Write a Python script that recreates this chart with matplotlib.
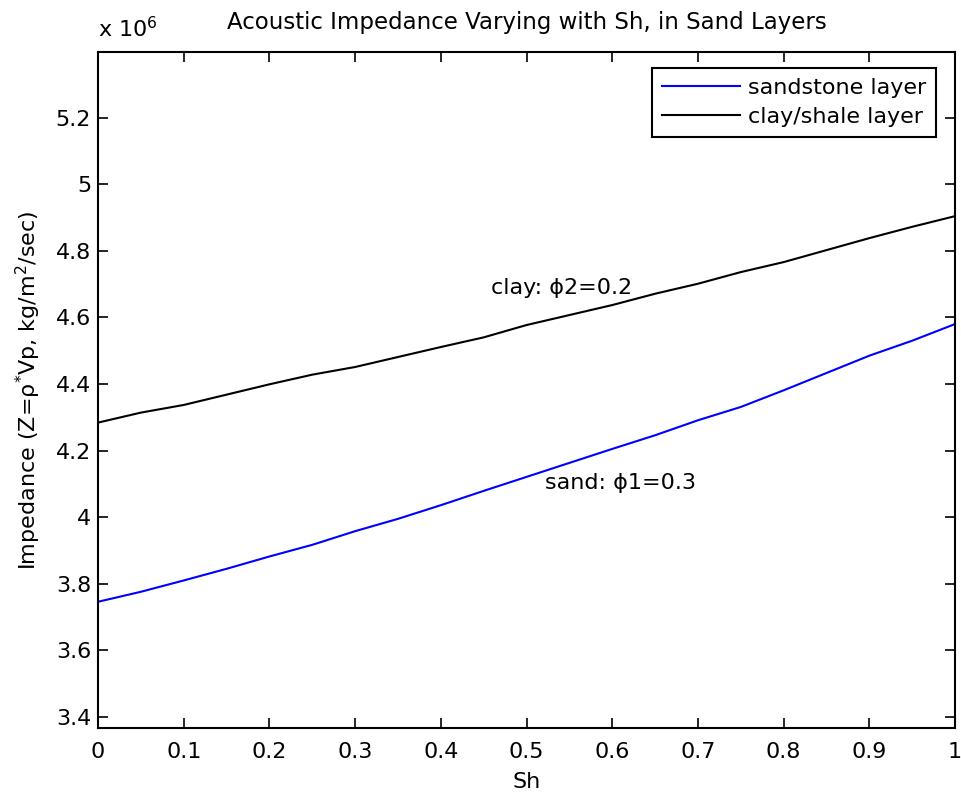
import numpy as np
import matplotlib.pyplot as plt

# shale fraction Sh, sampled every 0.05
sh = np.arange(0, 1.0001, 0.05)

# acoustic impedance Z = rho*Vp (units of 1e6 kg/m^2/sec)
z_sand = [3.746, 3.776, 3.810, 3.845, 3.882, 3.917, 3.958, 3.995, 4.036, 4.079, 4.121,
          4.163, 4.205, 4.246, 4.291, 4.331, 4.381, 4.433, 4.485, 4.530, 4.580]
z_clay = [4.284, 4.314, 4.337, 4.368, 4.399, 4.428, 4.451, 4.481, 4.511, 4.540, 4.577,
          4.607, 4.637, 4.671, 4.701, 4.736, 4.766, 4.802, 4.838, 4.872, 4.904]
scale = 1e6

plt.rcParams['font.size'] = 16
plt.rcParams['mathtext.fontset'] = 'dejavusans'

fig = plt.figure(figsize=(9.62, 7.97), dpi=100)
ax = fig.add_axes([0.1019, 0.0866, 0.8909, 0.8482])

ax.plot(sh, np.array(z_sand), color='#0000ff', lw=1.5, label='sandstone layer')
ax.plot(sh, np.array(z_clay), color='black', lw=1.5, label='clay/shale layer')

ax.text(0.459, 4.687, 'clay: ϕ2=0.2', ha='left', va='center')
ax.text(0.522, 4.102, 'sand: ϕ1=0.3', ha='left', va='center')

ax.set_xlim(0, 1)
ax.set_ylim(3.367, 5.397)
ax.set_xticks(np.arange(0, 1.01, 0.1))
ax.set_xticklabels(['0', '0.1', '0.2', '0.3', '0.4', '0.5', '0.6', '0.7', '0.8', '0.9', '1'])
ax.set_yticks(np.arange(3.4, 5.21, 0.2))
ax.set_yticklabels(['3.4', '3.6', '3.8', '4', '4.2', '4.4', '4.6', '4.8', '5', '5.2'])
ax.tick_params(direction='in', length=7.2, width=1.2, top=True, right=True)
ax.tick_params(axis='x', pad=10)
ax.tick_params(axis='y', pad=5)
for s in ax.spines.values():
    s.set_linewidth(1.5)

ax.text(0.0, 1.016, 'x 10$^{6}$', transform=ax.transAxes, ha='left', va='bottom')
ax.set_title('Acoustic Impedance Varying with Sh, in Sand Layers', fontsize=16.5, pad=16.5)
ax.set_xlabel('Sh', labelpad=7)
ax.set_ylabel('Impedance (Z=ρ$^{*}$Vp, kg/m$^{2}$/sec)', labelpad=9)

leg = ax.legend(loc='upper right', bbox_to_anchor=(0.9778, 0.9763), borderaxespad=0,
                fancybox=False, edgecolor='black', framealpha=1, handlelength=3.5,
                handletextpad=0.36, labelspacing=0.4, borderpad=0.45)
leg.get_frame().set_linewidth(1.5)

fig.savefig('out.png', dpi=100)
